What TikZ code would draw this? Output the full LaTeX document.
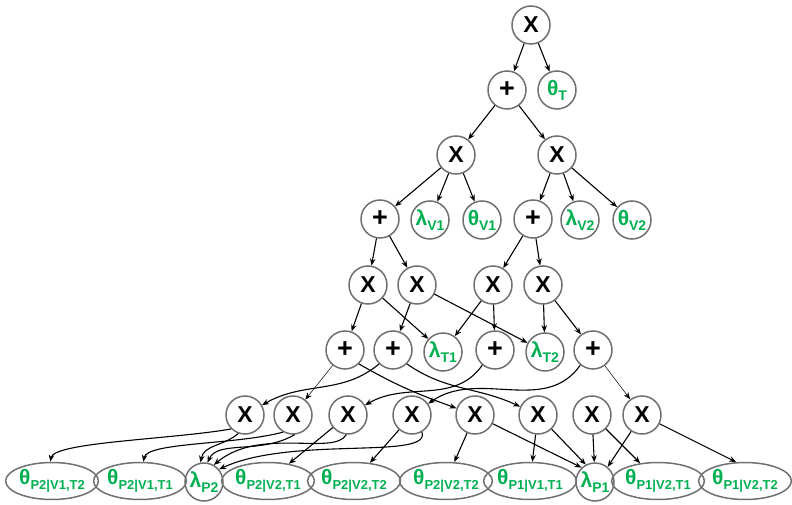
\documentclass[tikz,border=0pt]{standalone}
\usepackage{fontspec}
\setmainfont{Liberation Sans}
\usetikzlibrary{arrows.meta,shapes.geometric}
\definecolor{lblgreen}{HTML}{00B050}
\definecolor{ringgray}{HTML}{707070}
% parameter label: green symbol with a lowered index (optional index size)
\newcommand{\plab}[3][14]{\textcolor{lblgreen}{\fontsize{21}{21}\selectfont #2\raisebox{-5pt}{\fontsize{#1}{#1}\selectfont #3}}}
\begin{document}
\begin{tikzpicture}[x=1pt,y=1pt,
  op/.style={circle,draw=ringgray,line width=1.5pt,minimum size=38pt,inner sep=0pt,font=\fontsize{23}{23}\selectfont\bfseries},
  sum/.style={op,font=\fontsize{27}{27}\selectfont\bfseries},
  prm/.style={circle,draw=ringgray,line width=1.5pt,minimum size=38pt,inner sep=0pt,font=\bfseries},
  leaf/.style={ellipse,draw=ringgray,line width=1.5pt,minimum width=83pt,minimum height=37pt,inner sep=0pt,font=\bfseries},
  arr/.style={-{Stealth[length=7pt,width=5.5pt]},line width=1.1pt},
  arrthin/.style={arr,line width=0.5pt}]
\useasboundingbox (0,0) rectangle (792,504);

% upper part of the network
\node[op]  (root) at (531,479) {X};
\node[sum] (sA)   at (507,414) {+};
\node[prm] (thT)  at (557,414) {\plab{θ}{T}};
\node[op]  (xa)   at (456,349) {X};
\node[op]  (xb)   at (557,349) {X};
\node[sum] (sB)   at (380,285) {+};
\node[prm] (lV1)  at (430,284) {\plab{λ}{V1}};
\node[prm] (thV1) at (482,284) {\plab{θ}{V1}};
\node[sum] (sC)   at (533,285) {+};
\node[prm] (lV2)  at (580,284) {\plab{λ}{V2}};
\node[prm] (thV2) at (632,284) {\plab{θ}{V2}};
\node[op]  (xc)   at (368,219) {X};
\node[op]  (xd)   at (417,219) {X};
\node[op]  (xe)   at (493,219) {X};
\node[op]  (xf)   at (543,219) {X};
\node[sum] (sD)   at (345,154) {+};
\node[sum] (sE)   at (393,154) {+};
\node[prm] (lT1)  at (443,152) {\plab{λ}{T1}};
\node[sum] (sF)   at (495,154) {+};
\node[prm] (lT2)  at (545,152) {\plab{λ}{T2}};
\node[sum] (sG)   at (593,154) {+};

% product layer above the leaves
\node[op] (x1) at (245,89) {X};
\node[op] (x2) at (293,89) {X};
\node[op] (x3) at (348,89) {X};
\node[op] (x4) at (412,89) {X};
\node[op] (x5) at (475,89) {X};
\node[op] (x6) at (538,89) {X};
\node[op] (x7) at (592,89) {X};
\node[op] (x8) at (642,89) {X};

% leaves
\node[leaf] (t1)  at (52,23)  {\plab[13]{θ}{P2|V1,T2}};
\node[leaf] (t2)  at (140,23) {\plab[13]{θ}{P2|V1,T1}};
\node[prm]  (lP2) at (204,22) {\plab{λ}{P2}};
\node[leaf] (t3)  at (268,23) {\plab[13]{θ}{P2|V2,T1}};
\node[leaf] (t4)  at (354,23) {\plab[13]{θ}{P2|V2,T2}};
\node[leaf] (t5)  at (446,23) {\plab[13]{θ}{P2|V2,T2}};
\node[leaf] (t6)  at (530,23) {\plab[13]{θ}{P1|V1,T1}};
\node[prm]  (lP1) at (595,22) {\plab{λ}{P1}};
\node[leaf] (t7)  at (658,23) {\plab[13]{θ}{P1|V2,T1}};
\node[leaf] (t8)  at (745,23) {\plab[13]{θ}{P1|V2,T2}};

% tree edges
\draw[arr] (root) -- (sA);
\draw[arr] (root) -- (thT);
\draw[arr] (sA) -- (xa);
\draw[arr] (sA) -- (xb);
\draw[arr] (xa) -- (sB);
\draw[arr] (xa) -- (lV1);
\draw[arr] (xa) -- (thV1);
\draw[arr] (xb) -- (sC);
\draw[arr] (xb) -- (lV2);
\draw[arr] (xb) -- (thV2);
\draw[arr] (sB) -- (xc);
\draw[arr] (sB) -- (xd);
\draw[arr] (sC) -- (xe);
\draw[arr] (sC) -- (xf);
\draw[arr] (xc) -- (sD);
\draw[arr] (xc) -- (lT1);
\draw[arr] (xd) -- (sE);
\draw[arr] (xd) -- (lT2);
\draw[arr] (xe) -- (lT1);
\draw[arr] (xe) -- (sF);
\draw[arr] (xf) -- (lT2);
\draw[arr] (xf) -- (sG);

% sums to products
\draw[arrthin] (sD) -- (x2);
\draw[arr] (sD.-45) to[out=-30,in=160] (x5);
\draw[arr] (sE.-135) to[out=-140,in=30] (x1);
\draw[arr] (sE.-45) to[out=-35,in=155] (x6);
\draw[arr] (sF.-130) to[out=-125,in=30] (x3);
\draw[arr] (sG.-130) to[out=-125,in=35] (x4);
\draw[arrthin] (sG) -- (x8);

% products to leaves
\draw[arr] (x1.-135) .. controls +(190:60) and +(80:20) .. (t1.95);
\draw[arr] (x1.-110) .. controls +(-140:20) and +(80:18) .. (lP2.100);
\draw[arr] (x2.-120) .. controls +(-165:50) and +(80:20) .. (t2.80);
\draw[arr] (x2.-85) .. controls +(-150:40) and +(65:25) .. (lP2.80);
\draw[arr] (x3.-95) .. controls +(-120:25) and +(40:60) .. (lP2.60);
\draw[arr] (x4.-60) .. controls +(-70:30) and +(25:80) .. (lP2.40);
\draw[arr] (x3) -- (t3);
\draw[arr] (x4) -- (t4);
\draw[arr] (x5) -- (t5);
\draw[arr] (x5) -- (lP1.133);
\draw[arr] (x6) -- (t6);
\draw[arr] (x6) -- (lP1.118);
\draw[arr] (x7) -- (lP1.92);
\draw[arr] (x7) -- (t7);
\draw[arr] (x8) -- (lP1.50);
\draw[arr] (x8) -- (t8.115);
\end{tikzpicture}
\end{document}
